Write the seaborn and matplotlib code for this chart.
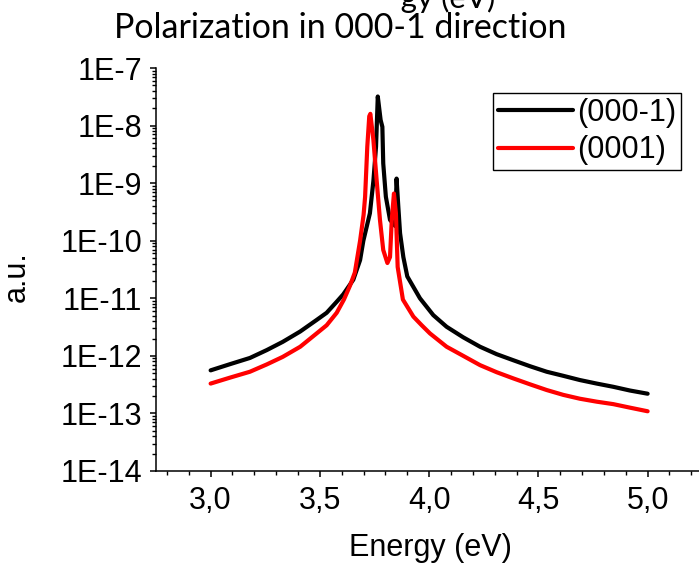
import numpy as np
import pandas as pd
import matplotlib
matplotlib.use("Agg")
import matplotlib.pyplot as plt
import seaborn as sns
from matplotlib.transforms import Bbox
from matplotlib.ticker import FixedLocator, MultipleLocator, FuncFormatter, LogLocator, NullFormatter

# Spectra: photon energy (eV) and intensity (a.u.)
energy_000m1 = [3.00, 3.09, 3.18, 3.257, 3.33, 3.41, 3.485, 3.531, 3.577, 3.607, 3.653,
                3.684, 3.699, 3.729, 3.745, 3.757, 3.765, 3.778, 3.786, 3.790, 3.802,
                3.821, 3.845, 3.851, 3.859, 3.867, 3.882, 3.90, 3.958, 4.019, 4.08,
                4.156, 4.233, 4.309, 4.385, 4.462, 4.538, 4.614, 4.69, 4.767, 4.843,
                4.919, 5.00]
signal_000m1 = [5.6e-13, 7.2e-13, 9.2e-13, 1.26e-12, 1.75e-12, 2.65e-12, 4.2e-12, 5.6e-12,
                8.7e-12, 1.17e-11, 2.1e-11, 4.6e-11, 1.0e-10, 3.0e-10, 1.1e-9, 4.3e-9,
                3.2e-8, 1.25e-8, 9.5e-9, 2.2e-9, 5.8e-10, 2.3e-10, 1.8e-10, 1.2e-9,
                3.9e-10, 1.35e-10, 5.2e-11, 2.4e-11, 1.0e-11, 5.1e-12, 3.2e-12, 2.1e-12,
                1.44e-12, 1.07e-12, 8.4e-13, 6.6e-13, 5.3e-13, 4.5e-13, 3.8e-13, 3.3e-13,
                2.9e-13, 2.5e-13, 2.2e-13]

energy_0001 = [3.00, 3.09, 3.18, 3.257, 3.33, 3.41, 3.485, 3.531, 3.577, 3.61, 3.638,
               3.66, 3.684, 3.70, 3.707, 3.717, 3.726, 3.731, 3.745, 3.760, 3.775, 3.790,
               3.809, 3.821, 3.829, 3.839, 3.848, 3.856, 3.88, 3.928, 3.966, 4.004,
               4.08, 4.156, 4.233, 4.309, 4.386, 4.462, 4.538, 4.614, 4.69, 4.767,
               4.843, 4.919, 5.00]
signal_0001 = [3.3e-13, 4.2e-13, 5.3e-13, 7.1e-13, 9.6e-13, 1.44e-12, 2.45e-12, 3.4e-12,
               5.6e-12, 9.5e-12, 1.66e-11, 2.8e-11, 1.0e-10, 2.8e-10, 5.8e-10, 4.3e-9,
               1.45e-8, 1.6e-8, 5.6e-9, 1.1e-9, 2.3e-10, 6.9e-11, 4.1e-11, 5.2e-11,
               2.3e-10, 6.6e-10, 3.0e-10, 3.5e-11, 9.5e-12, 4.8e-12, 3.4e-12, 2.45e-12,
               1.44e-12, 1.0e-12, 6.9e-13, 5.2e-13, 4.05e-13, 3.2e-13, 2.55e-13, 2.1e-13,
               1.8e-13, 1.6e-13, 1.45e-13, 1.26e-13, 1.09e-13]

series_names = ["(000-1)", "(0001)"]
series_colors = ["black", "red"]
x_ticks = [3.0, 3.5, 4.0, 4.5, 5.0]
y_tick_exponents = [-14, -13, -12, -11, -10, -9, -8, -7]

df = pd.concat([
    pd.DataFrame({"energy": energy_000m1, "signal": signal_000m1, "series": series_names[0]}),
    pd.DataFrame({"energy": energy_0001, "signal": signal_0001, "series": series_names[1]}),
], ignore_index=True)

sns.set_theme(style="ticks")
plt.rcParams["font.family"] = ["Liberation Sans", "DejaVu Sans"]
plt.rcParams["text.color"] = "black"

W, H = 699, 567
fig = plt.figure(figsize=(W / 100, H / 100), dpi=100)
left, bottom, top = 156, 471, 68
x_min, x_max = 2.75, 5.25
px_per_ev = 218.5
ax = fig.add_axes([left / W, (H - bottom) / H,
                   (x_max - x_min) * px_per_ev / W, (bottom - top) / H])

sns.lineplot(data=df, x="energy", y="signal", hue="series",
             palette=dict(zip(series_names, series_colors)),
             estimator=None, sort=False, linewidth=3, ax=ax, legend=False)

ax.set_yscale("log")
ax.set_xlim(x_min, x_max)
ax.set_ylim(10.0 ** y_tick_exponents[0], 10.0 ** y_tick_exponents[-1])

ax.xaxis.set_major_locator(FixedLocator(x_ticks))
ax.xaxis.set_minor_locator(MultipleLocator(0.1))
ax.xaxis.set_major_formatter(FuncFormatter(lambda v, p: f"{v:.1f}".replace(".", ",")))
ax.yaxis.set_major_locator(FixedLocator([10.0 ** e for e in y_tick_exponents]))
ax.yaxis.set_minor_locator(LogLocator(base=10, subs=np.arange(2, 10), numticks=20))
ax.yaxis.set_minor_formatter(NullFormatter())
ax.yaxis.set_major_formatter(FuncFormatter(lambda v, p: f"1E{int(round(np.log10(v)))}"))

for side in ["top", "right"]:
    ax.spines[side].set_visible(False)
for side in ["left", "bottom"]:
    ax.spines[side].set_linewidth(1.1)
    ax.spines[side].set_color("black")

ax.tick_params(axis="both", which="major", direction="out", length=4, width=1.1,
               color="black", labelsize=22, labelcolor="black")
ax.tick_params(axis="both", which="minor", direction="out", length=3, width=1.0, color="black")
ax.tick_params(axis="y", which="major", pad=6)
ax.tick_params(axis="x", which="major", pad=7)
ax.set_xlabel("")
ax.set_ylabel("")

fig.text(430 / W, 1 - 548 / H, "Energy (eV)", ha="center", va="center",
         fontsize=22, color="black")
fig.text(17 / W, 1 - 277 / H, "a.u.", rotation=90, ha="center", va="center",
         fontsize=22, color="black")

fig.text(114 / W, 1 - 38 / H, "Polarization in 000-1 direction", ha="left",
         va="baseline", fontsize=24.5, color="black", family=["Lato", "DejaVu Sans"])

# axis title of the panel above, only its lower edge shows at the top border
upper = fig.text(495 / W, 1 - 8 / H, "Energy (eV)", ha="right", va="baseline",
                 fontsize=22.5, color="black", family=["Lato", "DejaVu Sans"])
upper.set_clip_box(Bbox.from_extents(401, 0, W, H))
upper.set_clip_on(True)

handles = [plt.Line2D([], [], color=c, lw=3) for c in series_colors]
leg = ax.legend(handles, series_names, loc="upper right",
                bbox_to_anchor=(681 / W, 1 - 93 / H), bbox_transform=fig.transFigure,
                fontsize=22, frameon=True, fancybox=False, framealpha=1,
                edgecolor="black", borderpad=0.15, labelspacing=0.25,
                handlelength=2.45, handletextpad=0.15, borderaxespad=0)
leg.get_frame().set_linewidth(1.0)
for t in leg.get_texts():
    t.set_color("black")

fig.savefig("out.png", dpi=100)
